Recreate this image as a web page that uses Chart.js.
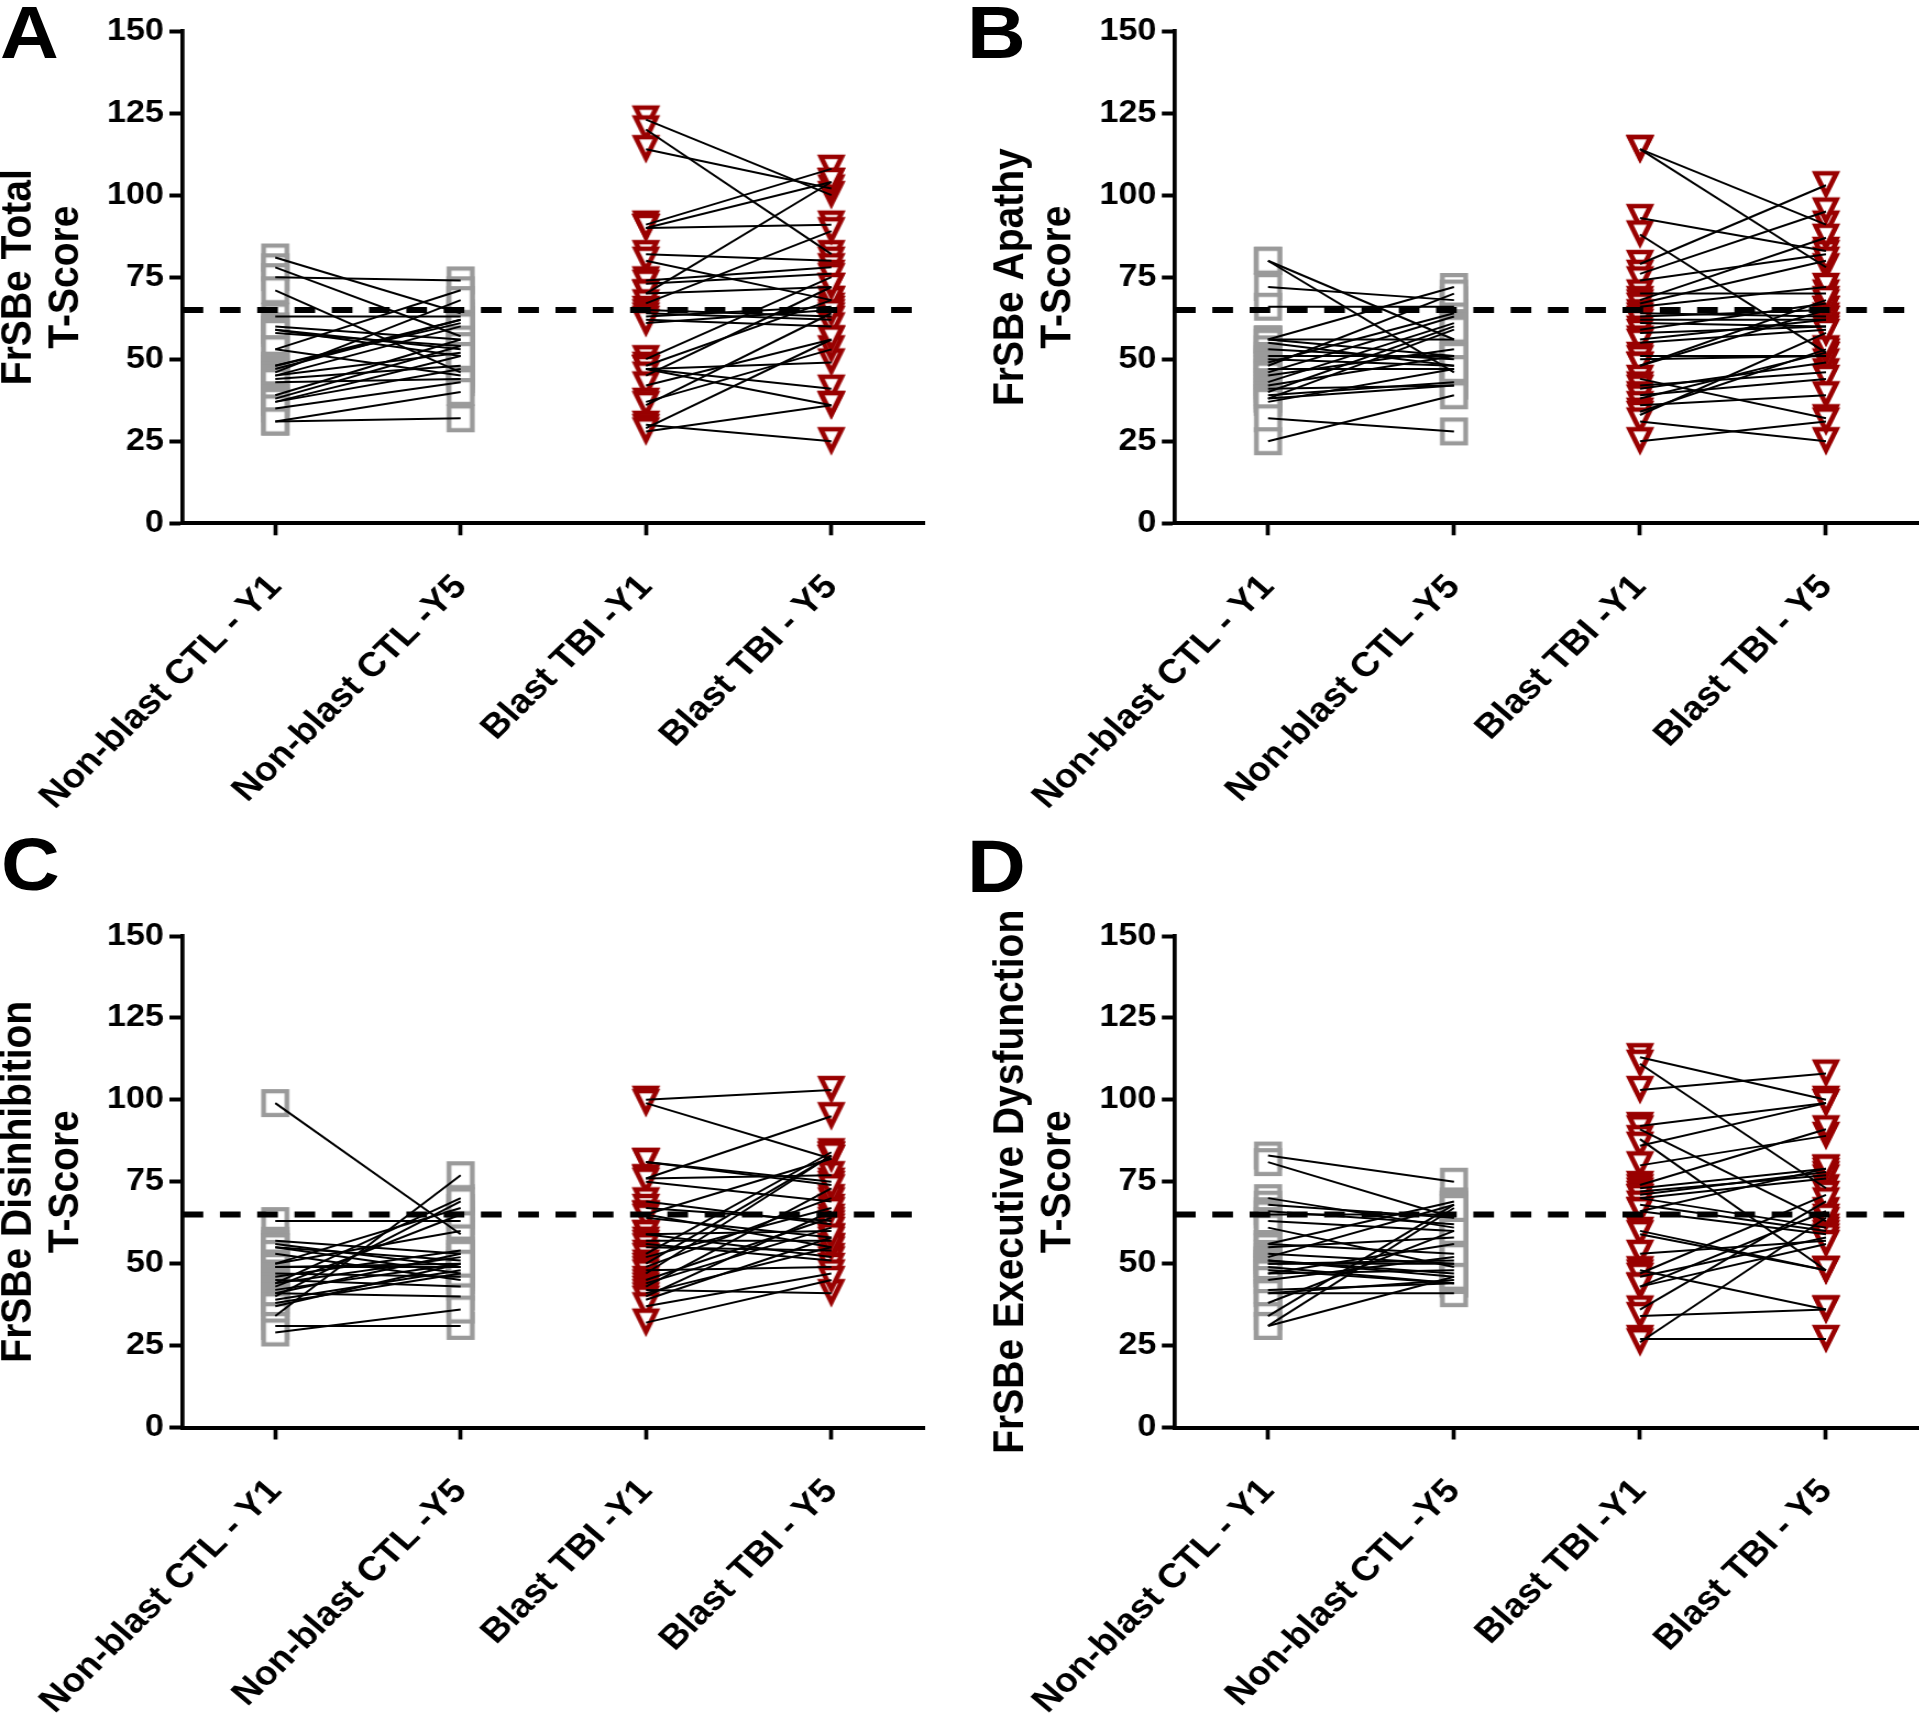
<!DOCTYPE html>
<html>
<head>
<meta charset="utf-8">
<script src="https://cdn.jsdelivr.net/npm/chart.js@4.4.1/dist/chart.umd.min.js"></script>
<style>
html,body{margin:0;padding:0;background:#fff;overflow:hidden;width:1919px;height:1714px;}
#wrap{position:absolute;left:0;top:0;width:1745px;height:1714px;transform:scaleX(1.1);transform-origin:0 0;overflow:hidden;}
#wrap canvas{position:absolute;}
.letter{position:absolute;font-family:"Liberation Sans",Arial,sans-serif;font-weight:bold;font-size:74px;line-height:1;color:#000;}
</style>
</head>
<body>
<div id="wrap">
  <canvas id="cA" width="872" height="857" style="left:0;top:0;width:872px;height:857px"></canvas>
  <canvas id="cB" width="874" height="857" style="left:872px;top:0;width:874px;height:857px"></canvas>
  <canvas id="cC" width="872" height="857" style="left:0;top:857px;width:872px;height:857px"></canvas>
  <canvas id="cD" width="874" height="857" style="left:872px;top:857px;width:874px;height:857px"></canvas>
  <div class="letter" style="left:0;top:-4px">A</div>
  <div class="letter" style="left:879px;top:-4px">B</div>
  <div class="letter" style="left:1px;top:828px">C</div>
  <div class="letter" style="left:879px;top:830px">D</div>
</div>
<script>
// ---------- data ----------
const categories = ["Non-blast CTL - Y1", "Non-blast CTL -Y5", "Blast TBI -Y1", "Blast TBI - Y5"];
const yMin = 0, yMax = 150, yStep = 25;
const cutoff = 65;

// Panel A: FrSBe Total
const totalCtlY1 = [81, 78, 75, 71, 63, 60, 59, 59, 58, 53, 53, 48, 48, 47, 46, 45, 45, 44, 43, 39, 38, 37, 37, 35, 31, 31];
const totalCtlY5 = [64, 57, 74, 46, 63, 56, 51, 53, 54, 71, 45, 62, 61, 62, 68, 60, 52, 48, 44, 56, 54, 47, 51, 43, 32, 40];
const totalTbiY1 = [123, 120, 114, 91, 90, 90, 82, 80, 74, 73, 70, 70, 67, 65, 64, 63, 62, 61, 50, 48, 47, 47, 47, 45, 42, 37, 36, 30, 29, 28];
const totalTbiY5 = [100, 82, 102, 108, 104, 91, 80, 68, 78, 76, 104, 72, 89, 63, 62, 66, 60, 65, 75, 68, 49, 41, 36, 72, 56, 53, 64, 25, 56, 36];

// Panel B: FrSBe Apathy
const apathyCtlY1 = [80, 80, 72, 66, 56, 56, 56, 55, 53, 51, 50, 49, 48, 47, 46, 45, 43, 42, 41, 40, 39, 38, 38, 37, 32, 25];
const apathyCtlY5 = [56, 46, 68, 66, 72, 51, 56, 48, 50, 51, 48, 64, 70, 47, 63, 53, 61, 51, 42, 60, 43, 59, 42, 47, 28, 39];
const apathyTbiY1 = [114, 114, 93, 88, 79, 76, 74, 70, 68, 67, 66, 64, 63, 62, 61, 59, 58, 56, 55, 51, 50, 48, 48, 44, 42, 41, 39, 38, 36, 34, 33, 31, 25];
const apathyTbiY5 = [91, 78, 83, 52, 103, 95, 82, 70, 87, 80, 72, 63, 65, 62, 60, 67, 60, 62, 59, 51, 51, 65, 68, 32, 46, 49, 44, 52, 39, 53, 58, 25, 31];

// Panel C: FrSBe Disinhibition
const disinhCtlY1 = [99, 63, 57, 56, 55, 55, 53, 50, 50, 49, 49, 47, 46, 45, 44, 44, 43, 42, 41, 41, 40, 39, 38, 37, 34, 31, 29];
const disinhCtlY5 = [59, 63, 53, 49, 47, 51, 45, 67, 60, 50, 49, 46, 54, 43, 52, 70, 65, 50, 53, 40, 69, 48, 47, 50, 77, 31, 36];
const disinhTbiY1 = [100, 99, 81, 81, 76, 76, 75, 69, 67, 65, 65, 64, 59, 59, 57, 56, 55, 53, 52, 50, 49, 48, 47, 45, 44, 43, 42, 41, 40, 39, 37, 32];
const disinhTbiY5 = [103, 82, 75, 74, 95, 77, 69, 62, 63, 82, 55, 58, 60, 52, 57, 51, 54, 84, 67, 83, 70, 49, 83, 64, 61, 73, 41, 55, 66, 58, 47, 45];

// Panel D: FrSBe Executive Dysfunction
const execCtlY1 = [83, 81, 70, 68, 66, 65, 63, 61, 56, 56, 55, 53, 52, 51, 51, 50, 50, 49, 48, 47, 47, 45, 42, 41, 41, 38, 34, 31, 31];
const execCtlY5 = [75, 64, 61, 64, 62, 65, 60, 49, 69, 53, 58, 50, 68, 47, 46, 51, 50, 44, 44, 56, 48, 52, 44, 41, 45, 60, 68, 67, 46];
const execTbiY1 = [113, 111, 103, 92, 91, 88, 86, 80, 74, 73, 72, 71, 70, 70, 68, 66, 66, 60, 59, 53, 48, 47, 46, 43, 43, 36, 34, 27, 26];
const execTbiY5 = [100, 73, 108, 99, 63, 48, 99, 89, 91, 79, 77, 78, 76, 61, 60, 59, 79, 48, 48, 57, 36, 71, 58, 56, 66, 69, 36, 27, 64];

// ---------- styling ----------
const FONT = '"Liberation Sans", Arial, Helvetica, sans-serif';
const GRAY = '#9a9a9a';
const RED = '#990000';

function makeSquare() {
  const c = document.createElement('canvas');
  c.width = 30; c.height = 32;
  const g = c.getContext('2d');
  g.fillStyle = '#fff'; g.strokeStyle = GRAY; g.lineWidth = 4.3;
  g.beginPath(); g.rect(15 - 10.6, 16 - 11.8, 21.2, 23.6);
  g.fill(); g.stroke();
  return c;
}
function makeTriangle() {
  const c = document.createElement('canvas');
  c.width = 32; c.height = 34;
  const g = c.getContext('2d');
  const cx = 16, cy = 17;
  g.fillStyle = '#fff'; g.strokeStyle = RED; g.lineWidth = 4.5; g.lineJoin = 'miter';
  g.beginPath();
  g.moveTo(cx - 9.5, cy - 12); g.lineTo(cx + 9.5, cy - 12); g.lineTo(cx, cy + 9);
  g.closePath(); g.fill(); g.stroke();
  return c;
}
const SQUARE = makeSquare();
const TRIANGLE = makeTriangle();

const cutoffPlugin = {
  id: 'cutoffLine',
  afterDatasetsDraw(chart, args, opts) {
    const { ctx, chartArea: a, scales: { y } } = chart;
    const py = y.getPixelForValue(opts.value);
    ctx.save();
    ctx.beginPath();
    ctx.setLineDash([18.8, 15.1]);
    ctx.lineWidth = 6;
    ctx.strokeStyle = '#000';
    ctx.moveTo(a.left, py);
    ctx.lineTo(a.right, py);
    ctx.stroke();
    ctx.restore();
  }
};

// marker datasets: image point styles, tiny radius so they do not reserve layout padding
function markerDs(values, catIndex, style) {
  return {
    data: values.map(v => ({ x: categories[catIndex], y: v })),
    showLine: false,
    pointStyle: style,
    pointRadius: 0.2,
    pointHoverRadius: 0.2,
    pointBorderWidth: 0,
    borderWidth: 0,
    order: 1
  };
}
function pairDs(a, b, c0, c1) {
  return {
    data: [{ x: categories[c0], y: a }, { x: categories[c1], y: b }],
    borderColor: '#000',
    borderWidth: 2,
    pointRadius: 0,
    pointHoverRadius: 0,
    pointBorderWidth: 0,
    fill: false,
    tension: 0,
    order: 0
  };
}

function buildPanel(id, yTitle, ctlY1, ctlY5, tbiY1, tbiY5, geo) {
  const datasets = [
    markerDs(ctlY1, 0, SQUARE),
    markerDs(ctlY5, 1, SQUARE),
    markerDs(tbiY1, 2, TRIANGLE),
    markerDs(tbiY5, 3, TRIANGLE)
  ];
  ctlY1.forEach((v, i) => datasets.push(pairDs(v, ctlY5[i], 0, 1)));
  tbiY1.forEach((v, i) => datasets.push(pairDs(v, tbiY5[i], 2, 3)));

  const chart = new Chart(document.getElementById(id), {
    type: 'line',
    data: { labels: categories, datasets },
    plugins: [cutoffPlugin],
    options: {
      responsive: false,
      animation: false,
      devicePixelRatio: 1,
      events: [],
      layout: { padding: { top: geo.T, left: 0, right: geo.padR, bottom: 0 } },
      plugins: {
        legend: { display: false },
        tooltip: { enabled: false },
        cutoffLine: { value: cutoff }
      },
      scales: {
        x: {
          type: 'category',
          offset: true,
          grid: { display: true, drawOnChartArea: false, drawTicks: true, tickLength: 12, tickWidth: 3.7, tickColor: '#000' },
          border: { display: true, color: '#000', width: 4 },
          ticks: {
            autoSkip: false, minRotation: 47, maxRotation: 47, padding: 32, color: '#000',
            font: { family: FONT, size: 34, weight: 'bold' }
          },
          afterFit(s) { s.height = geo.xh; s.paddingLeft = 0; s.paddingRight = 0; }
        },
        y: {
          type: 'linear',
          min: yMin, max: yMax,
          ticks: { stepSize: yStep, padding: 5, color: '#000', font: { family: FONT, size: 31, weight: 'bold' } },
          grid: { display: true, drawOnChartArea: false, drawTicks: true, tickLength: 12, tickWidth: 4, tickColor: '#000' },
          border: { display: true, color: '#000', width: 3.7 },
          title: {
            display: true,
            text: [yTitle, 'T-Score'],
            color: '#000',
            font: { family: FONT, size: 39, weight: 'bold', lineHeight: 1.1 },
            padding: { top: geo.tpad, bottom: 0 }
          },
          afterFit(s) { s.width = geo.yw; s.paddingTop = 0; s.paddingBottom = 0; }
        }
      }
    }
  });

  // nudge the layout so the plot area lands exactly where wanted
  for (let k = 0; k < 3; k++) {
    const a = chart.chartArea;
    const p = chart.options.layout.padding;
    const dR = a.right - geo.R, dL = geo.L - a.left, dT = geo.T - a.top, dB = a.bottom - geo.B;
    if (Math.abs(dR) + Math.abs(dL) + Math.abs(dT) + Math.abs(dB) < 0.3) break;
    p.right += dR;
    geo.yw += dL;
    p.top += dT;
    geo.xh += dB;
    chart.update();
  }
  return chart;
}

buildPanel('cA', 'FrSBe Total', totalCtlY1, totalCtlY5, totalTbiY1, totalTbiY5,
  { T: 31, B: 523.3, L: 166, R: 840, padR: 32, xh: 333.7, yw: 166, tpad: -4.2 });
buildPanel('cB', 'FrSBe Apathy', apathyCtlY1, apathyCtlY5, apathyTbiY1, apathyTbiY5,
  { T: 31, B: 523.3, L: 196.2, R: 872.5, padR: 1.5, xh: 333.7, yw: 196.2, tpad: 26.1 });
buildPanel('cC', 'FrSBe Disinhibition', disinhCtlY1, disinhCtlY5, disinhTbiY1, disinhTbiY5,
  { T: 79, B: 570.5, L: 166, R: 840, padR: 32, xh: 286.5, yw: 166, tpad: -4.2 });
buildPanel('cD', 'FrSBe Executive Dysfunction', execCtlY1, execCtlY5, execTbiY1, execTbiY5,
  { T: 79, B: 570.5, L: 196.2, R: 872.5, padR: 1.5, xh: 286.5, yw: 196.2, tpad: 26.1 });
</script>
</body>
</html>
